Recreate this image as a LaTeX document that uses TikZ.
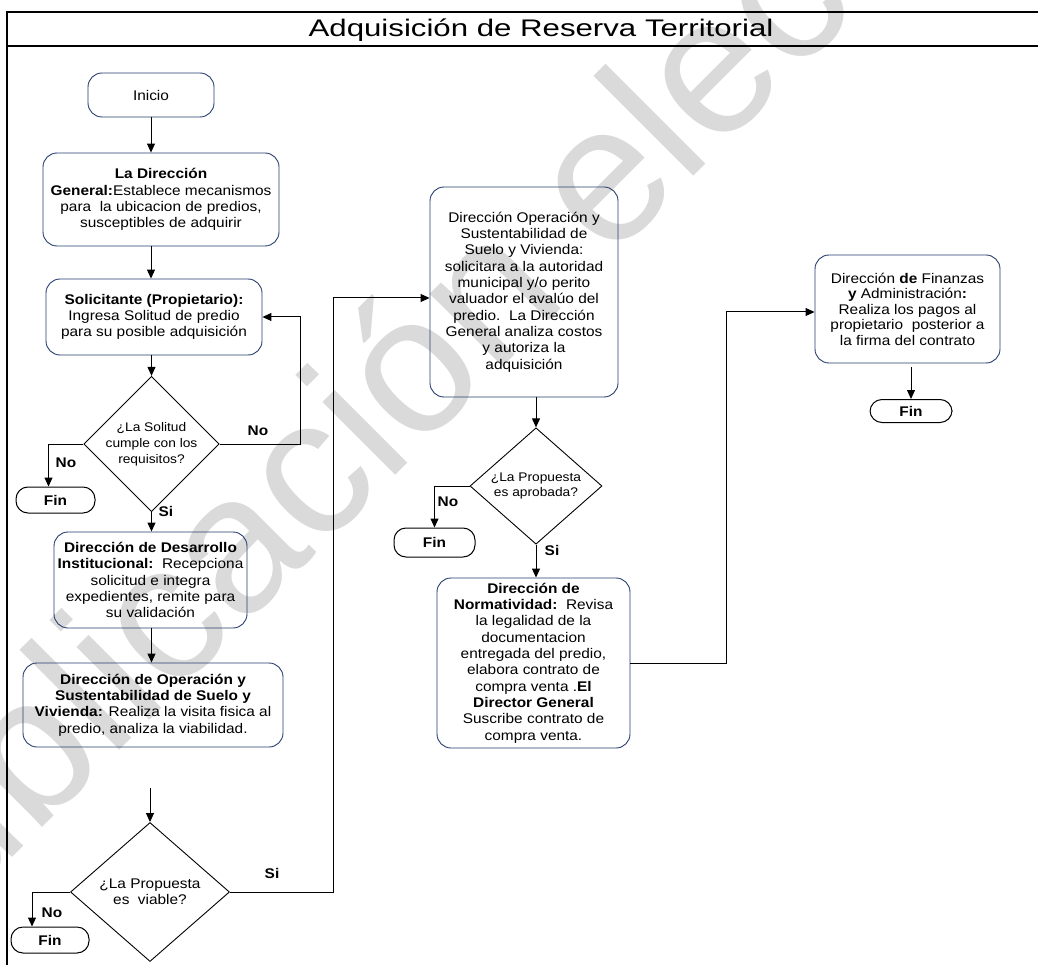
\documentclass[tikz,border=0pt]{standalone}
\usepackage{fontspec}
\setmainfont{Liberation Sans}[FakeStretch=1.1]
\newfontfamily\markfont{Liberation Sans}
\newfontfamily\titlefont{Liberation Sans}[FakeStretch=1.3]
\usetikzlibrary{shapes.geometric,arrows.meta}

\definecolor{boxblue}{RGB}{38,62,110}
\definecolor{markgray}{RGB}{218,218,218}

\tikzset{
  proc/.style={draw=boxblue, line width=0.9pt, rounded corners=14pt, align=center,
    inner sep=2pt, font=\fontsize{14}{16.3}\selectfont},
  term/.style={draw=black, line width=1pt, rounded corners=12pt, inner sep=0pt,
    font=\bfseries\fontsize{14}{16}\selectfont},
  decision/.style={draw=black, diamond, line width=0.9pt, inner sep=0pt, align=center},
  flow/.style={draw=black, line width=1pt, -{Triangle[length=9pt,width=8pt]}},
  lbl/.style={font=\bfseries\fontsize{14}{16}\selectfont, inner sep=0pt},
}

\begin{document}
\begin{tikzpicture}[x=1pt,y=-1pt]
\useasboundingbox (0,0) rectangle (1038,965);
\begin{scope}
\clip (0,0) rectangle (1038,965);

% background stamp
\node[rotate=45, text=markgray, inner sep=0pt, font=\markfont\fontsize{195}{195}\selectfont]
  (stamp) at (520,250) {Publicación electrónica};

% frame and title bar (the frame runs on past the right and bottom edges)
\draw[line width=1.5pt] (7,980) -- (7,12) -- (1045,12);
\draw[line width=1.5pt] (7,46) -- (1045,46);
\node[font=\titlefont\fontsize{24}{26}\selectfont, inner sep=0pt] (title) at (541,30)
  {Adquisición de Reserva Territorial};

% left column
\node[proc, minimum width=126, minimum height=44] (inicio) at (151,95) {Inicio};
\node[proc, minimum width=236, minimum height=93] (dg) at (161,199.5)
  {\textbf{La Dirección}\\\textbf{General:}Establece mecanismos\\para\ \ la ubicacion de predios,\\susceptibles de adquirir};
\node[proc, minimum width=216, minimum height=76] (sol) at (154,317)
  {\textbf{Solicitante (Propietario):}\\Ingresa Solitud de predio\\para su posible adquisición};
\node[decision, minimum width=131, minimum height=106, font=\fontsize{12.5}{16}\selectfont] (q1) at (151.5,444)
  {¿La Solitud\\cumple con los\\requisitos?};
\node[term, minimum width=79, minimum height=26] (fin1) at (55.5,500) {Fin};
\node[proc, minimum width=193, minimum height=96] (des) at (150.5,580)
  {\textbf{Dirección de Desarrollo}\\\textbf{Institucional:}\ \ Recepciona\\solicitud e integra\\expedientes, remite para\\su validación};
\node[proc, minimum width=260, minimum height=84] (ope) at (153,705)
  {\textbf{Dirección de Operación y}\\\textbf{Sustentabilidad de Suelo y}\\\textbf{Vivienda:} Realiza la visita fisica al\\predio, analiza la viabilidad.};
\coordinate (gap) at (150,788);
\node[decision, minimum width=159, minimum height=139, font=\fontsize{14}{16.3}\selectfont] (q3) at (150,892)
  {¿La Propuesta\\es\ \ viable?};
\node[term, minimum width=78, minimum height=26] (fin3) at (50,940) {Fin};

% middle column
\node[proc, minimum width=188, minimum height=210] (oms) at (524,292)
  {Dirección Operación y\\Sustentabilidad de\\Suelo y Vivienda:\\solicitara a la autoridad\\municipal y/o perito\\valuador el avalúo del\\predio.\ \ La Dirección\\General analiza costos\\y autoriza la\\adquisición};
\node[decision, minimum width=132, minimum height=106, font=\fontsize{12.5}{15}\selectfont] (q2) at (536,486)
  {¿La Propuesta\\es aprobada?};
\node[term, minimum width=81, minimum height=29] (fin2) at (434.5,542.5) {Fin};
\node[proc, minimum width=193, minimum height=170] (norm) at (533.5,663)
  {\textbf{Dirección de}\\\textbf{Normatividad:}\ \ Revisa\\la legalidad de la\\documentacion\\entregada del predio,\\elabora contrato de\\compra venta .\textbf{El}\\\textbf{Director General}\\Suscribe contrato de\\compra venta.};

% right column
\node[proc, minimum width=185, minimum height=108, font=\fontsize{14}{15.5}\selectfont] (finz) at (907.5,309)
  {Dirección \textbf{de} Finanzas\\\textbf{y} Administración\textbf{:}\\Realiza los pagos al\\propietario\ \ posterior a\\la firma del contrato};
\node[term, minimum width=82, minimum height=23] (fin4) at (911,411) {Fin};

% connectors
\draw[flow] (inicio.south) -- (inicio.south |- dg.north);
\draw[flow] (inicio.south |- dg.south) -- (inicio.south |- sol.north);
\draw[flow] (q1.north |- sol.south) -- (q1.north);
\draw[flow] (q1.west) -| ([xshift=-7]fin1.north);
\draw[flow] (q1.east) -| ([xshift=38]sol.east) -- (sol.east);
\draw[flow] (q1.south) -- (q1.south |- des.north);
\draw[flow] (q1.south |- des.south) -- (q1.south |- ope.north);
\draw[flow] (gap) -- (q3.north);
\draw[flow] (q3.west) -| ([xshift=-18]fin3.north);
\draw[flow] (q3.east) -- ++(104,0) |- ([yshift=-6]oms.west);
\draw[flow] (q2.north |- oms.south) -- (q2.north);
\draw[flow] (q2.west) -| (fin2.north);
\draw[flow] (q2.south) -- (q2.south |- norm.north);
\draw[flow] (norm.east) -- ++(96,0) |- ([yshift=-3]finz.west);
\draw[flow] ([yshift=-4]fin4.north |- finz.south) -- (fin4.north);

% branch labels
\node[lbl] (n1) at (66,463) {No};
\node[lbl] (n2) at (258,431) {No};
\node[lbl] (s1) at (166,511) {Si};
\node[lbl] (n3) at (52,913) {No};
\node[lbl] (s3) at (272,873) {Si};
\node[lbl] (n4) at (448,502) {No};
\node[lbl] (s2) at (552,550) {Si};
\end{scope}
\end{tikzpicture}
\end{document}
